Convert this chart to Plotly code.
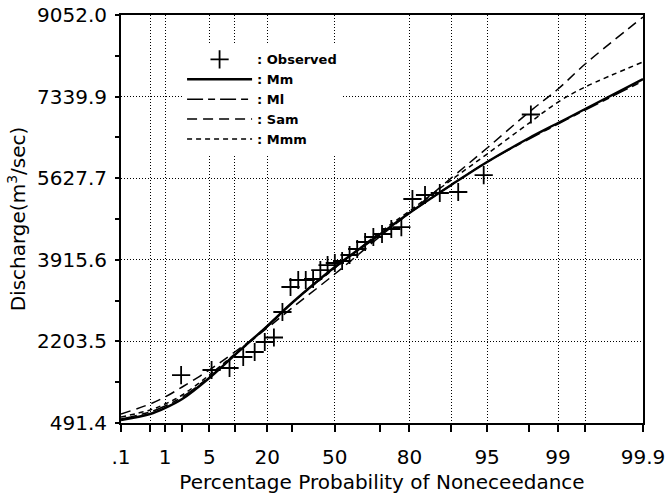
import statistics
import plotly.graph_objects as go

# ---------------- data ----------------
# curve probabilities (percent of non-exceedance)
curve_p = [0.1, 0.5, 1, 2, 5, 10, 20, 30, 50, 70, 80, 90, 95, 98, 99, 99.5, 99.9]
mm_q  = [554, 680, 806, 995, 1436, 1918, 2526, 3009, 3764, 4457, 4897, 5484, 5967, 6471, 6785, 7079, 7708]
ml_q  = [575, 722, 848, 1037, 1457, 1918, 2505, 3009, 3743, 4457, 4897, 5484, 5967, 6450, 6764, 7058, 7666]
sam_q = [680, 890, 1037, 1247, 1603, 1981, 2484, 2904, 3617, 4415, 4897, 5631, 6261, 7016, 7499, 8023, 9010]
mmm_q = [617, 764, 890, 1079, 1498, 1939, 2526, 3009, 3743, 4499, 4939, 5589, 6135, 6785, 7226, 7541, 8066]

obs_p = [1.92, 5.36, 8.79, 12.23, 15.66, 19.10, 22.53, 25.96, 29.40, 32.83,
         36.26, 39.70, 43.13, 46.57, 50.00, 53.43, 56.87, 60.30, 63.74, 67.17,
         70.60, 74.04, 77.47, 80.90, 84.34, 87.77, 91.21, 94.64, 98.08]
obs_q = [1498, 1603, 1645, 1876, 1981, 2191, 2285, 2820, 3345, 3492,
         3492, 3513, 3701, 3806, 3848, 3890, 4016, 4142, 4289, 4394,
         4457, 4562, 4603, 5191, 5275, 5317, 5338, 5694, 6964]

# axis ticks
xtick_p = [0.1, 0.5, 1, 2, 5, 10, 20, 30, 50, 70, 80, 90, 95, 98, 99, 99.5, 99.9]
xtick_text = [".1", " ", "1", " ", "5", " ", "20", " ", "50", " ", "80", " ", "95", " ", "99", " ", "99.9"]
xgrid_p = [0.5, 1, 5, 10, 20, 50, 80, 90, 95, 99, 99.5]
ytick_vals = [491.4, 2203.5, 3915.6, 5627.7, 7339.9, 9052.0]
ytick_minor = [1347.45, 3059.55, 4771.65, 6483.8, 8195.95]

# ---------------- probability-paper scale ----------------
_nd = statistics.NormalDist()
PAPER_K = 0.0585  # skew factor of the probability paper


def paper_x(p):
    z = _nd.inv_cdf(p / 100.0)
    return z + PAPER_K * z * z


def px(lst):
    return [paper_x(p) for p in lst]


FONT = "DejaVu Sans, Verdana, sans-serif"

fig = go.Figure()
fig.add_trace(go.Scatter(x=px(obs_p), y=obs_q, mode="markers", name=": Observed",
                         marker=dict(symbol="cross-thin-open", size=13, color="black",
                                     line=dict(color="black", width=1.8))))
fig.add_trace(go.Scatter(x=px(curve_p), y=mm_q, mode="lines", name=": Mm",
                         line=dict(color="black", width=2.4, shape="spline")))
fig.add_trace(go.Scatter(x=px(curve_p), y=ml_q, mode="lines", name=": Ml",
                         line=dict(color="black", width=1.5, shape="spline", dash="16px,5px,7px,5px")))
fig.add_trace(go.Scatter(x=px(curve_p), y=sam_q, mode="lines", name=": Sam",
                         line=dict(color="black", width=1.5, shape="spline", dash="10px,6px")))
fig.add_trace(go.Scatter(x=px(curve_p), y=mmm_q, mode="lines", name=": Mmm",
                         line=dict(color="black", width=1.5, shape="spline", dash="5px,4px")))

fig.update_layout(
    width=669, height=497,
    margin=dict(l=121, r=26, t=15, b=74, autoexpand=False),
    paper_bgcolor="white", plot_bgcolor="white",
    font=dict(family=FONT, color="black", size=20),
    hovermode=False,
    showlegend=True,
    legend=dict(x=0.117, y=0.928, xanchor="left", yanchor="top",
                bgcolor="white", borderwidth=0, tracegroupgap=0, itemwidth=65,
                font=dict(size=13, family=FONT, weight="bold")),
    xaxis=dict(
        range=[paper_x(0.1), paper_x(99.9)],
        tickmode="array", tickvals=px(xtick_p), ticktext=xtick_text,
        ticks="outside", ticklen=7, tickwidth=2, tickcolor="black",
        ticklabelstandoff=8, ticklabeloverflow="allow",
        tickfont=dict(size=20, family=FONT),
        showline=True, linewidth=2, linecolor="black", mirror=True,
        showgrid=False, zeroline=False,
        minor=dict(tickvals=px(xgrid_p), ticks="", showgrid=True,
                   gridcolor="black", gridwidth=1, griddash="1px,2px"),
        title=dict(text="Percentage Probability of Noneceedance",
                   font=dict(size=20, family=FONT), standoff=7),
        automargin=False,
    ),
    yaxis=dict(
        range=[491.4, 9052.0],
        tickmode="array", tickvals=ytick_vals, tickformat=".1f",
        ticks="outside", ticklen=4, tickwidth=2, tickcolor="black",
        ticklabelstandoff=4, ticklabeloverflow="allow",
        tickfont=dict(size=20, family=FONT),
        showline=True, linewidth=2, linecolor="black", mirror=True,
        showgrid=True, gridcolor="black", gridwidth=1, griddash="1px,2px",
        zeroline=False,
        minor=dict(tickvals=ytick_minor, ticks="outside", ticklen=4, tickwidth=2,
                   tickcolor="black", showgrid=False),
        title=dict(text="Discharge(m<sup>3</sup>/sec)",
                   font=dict(size=20, family=FONT), standoff=6),
        automargin=False,
    ),
)

# remove the default 8px page margin so the figure fills the window exactly
fig.write_html(
    "out.html",
    config={"displayModeBar": False, "staticPlot": False},
    post_script="document.documentElement.style.margin='0';document.body.style.margin='0';",
)
